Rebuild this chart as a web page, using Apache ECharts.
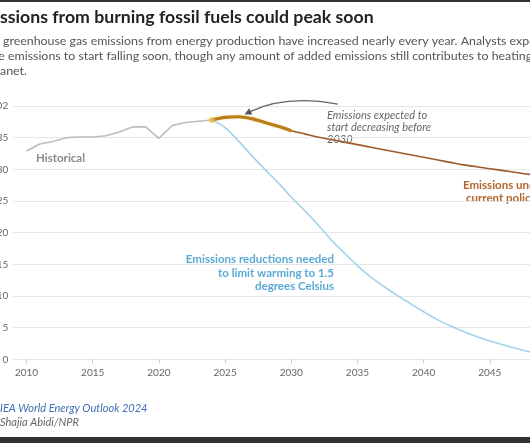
<!DOCTYPE html>
<html><head><meta charset="utf-8">
<script src="https://cdn.jsdelivr.net/npm/echarts@6/dist/echarts.min.js"></script>
<style>html,body{margin:0;padding:0;background:#fff;overflow:hidden}#c{width:530px;height:443px}</style>
</head><body><div id="c"></div>
<script>
// ---- data ----
const histYears = [2010,2011,2012,2013,2014,2015,2016,2017,2018,2019,2020,2021,2022,2023,2024];
const histValues = [32.9,34.0,34.4,35.0,35.1,35.1,35.3,35.9,36.7,36.7,34.9,36.9,37.4,37.6,37.8];
const projYears = [2024,2025,2026,2027,2028,2029,2030,2031,2032,2033,2034,2035,2036,2037,2038,2039,2040,2041,2042,2043,2044,2045,2046,2047,2048,2049,2050];
const currentPolicies = [37.8,38.2,38.3,38.0,37.4,36.8,36.1,35.6,35.1,34.7,34.3,33.9,33.5,33.1,32.7,32.3,31.9,31.5,31.1,30.7,30.4,30.1,29.8,29.5,29.2,29.0,28.8];
const limit15 = [37.8,36.6,34.5,32.2,30.0,27.9,25.6,23.5,21.3,18.9,16.8,14.8,13.0,11.5,10.1,8.8,7.5,6.3,5.3,4.4,3.6,2.9,2.3,1.7,1.2,0.8,0.5];
const highlightEndYear = 2030;
const xTickLabels = [2010,2015,2020,2025,2030,2035,2040,2045,2050];
const yTickValues = [0,5,10,15,20,25,30,35,40];
const yTopUnit = 'GtCO2';

// ---- build ----
const pairs = (xs, ys) => xs.map((x, i) => [x, ys[i]]);
const histData = pairs(histYears, histValues);
const cpData = pairs(projYears, currentPolicies);
const hlData = cpData.filter(d => d[0] <= highlightEndYear);
const blueData = pairs(projYears, limit15);
const startPoint = histData[histData.length - 1];

const FONT = 'Lato, "Open Sans", sans-serif';
const mctx = document.createElement('canvas').getContext('2d');
function tw(text, font) { mctx.font = font; return mctx.measureText(text).width; }
function fitSize(text, weight, style, target) {
  const base = 20;
  const w = tw(text, `${style} ${weight} ${base}px Lato`);
  return base * target / w;
}

const chart = echarts.init(document.getElementById('c'), null, {renderer: 'canvas'});

const titleFull = 'Emissions from burning fossil fuels could peak soon';
const titleVisible = 'ssions from burning fossil fuels could peak soon';
const titleSize = fitSize(titleVisible, 'bold', 'normal', 374);
const titleX = -tw('Emi', `bold ${titleSize}px Lato`);

const sub1 = 'Global greenhouse gas emissions from energy production have increased nearly every year. Analysts expect';
const sub1Vis = 'greenhouse gas emissions from energy production have increased nearly every year. Analysts exp';
const subSize = fitSize(sub1Vis, 'normal', 'normal', 527);
const sub1X = 3 - tw('Global ', `${subSize}px Lato`);
const sub2 = 'those emissions to start falling soon, though any amount of added emissions still contributes to heating';
const sub2X = 8 - tw('those ', `${subSize}px Lato`);
const sub3 = 'the planet.';
const sub3X = 0 - tw('the pl', `${subSize}px Lato`);

const src = 'Source: IEA World Energy Outlook 2024';
const srcX = 0 - tw('Source: ', `italic 11px Lato`);
const cred = 'Credit: Shajia Abidi/NPR';
const credX = 0 - tw('Credit: ', `italic 11px Lato`);

const staticGraphic = [
  {type:'rect', shape:{x:0,y:0,width:530,height:2}, style:{fill:'#333'}, silent:true},
  {type:'rect', shape:{x:0,y:437,width:530,height:6}, style:{fill:'#333'}, silent:true},
  {type:'text', x:titleX, y:17, style:{text:titleFull, font:`bold ${titleSize}px ${FONT}`, fill:'#222', verticalAlign:'middle'}},
  {type:'text', x:sub1X, y:41, style:{text:sub1, font:`${subSize}px ${FONT}`, fill:'#555', verticalAlign:'middle'}},
  {type:'text', x:sub2X, y:56, style:{text:sub2, font:`${subSize}px ${FONT}`, fill:'#555', verticalAlign:'middle'}},
  {type:'text', x:sub3X, y:71, style:{text:sub3, font:`${subSize}px ${FONT}`, fill:'#555', verticalAlign:'middle'}},
  {type:'text', x:36, y:158, style:{text:'Historical', font:`bold 11.5px ${FONT}`, fill:'#8a8a8a', verticalAlign:'middle'}},
  {type:'text', x:327, y:115, style:{text:'Emissions expected to', font:`italic 11px ${FONT}`, fill:'#666', verticalAlign:'middle'}},
  {type:'text', x:327, y:127, style:{text:'start decreasing before', font:`italic 11px ${FONT}`, fill:'#666', verticalAlign:'middle'}},
  {type:'text', x:327, y:139, style:{text:'2030', font:`italic 11px ${FONT}`, fill:'#666', verticalAlign:'middle'}},
  {type:'text', x:334, y:259, style:{text:'Emissions reductions needed', font:`bold 11.5px ${FONT}`, fill:'#5aaad6', align:'right', verticalAlign:'middle'}},
  {type:'text', x:334, y:273, style:{text:'to limit warming to 1.5', font:`bold 11.5px ${FONT}`, fill:'#5aaad6', align:'right', verticalAlign:'middle'}},
  {type:'text', x:334, y:286, style:{text:'degrees Celsius', font:`bold 11.5px ${FONT}`, fill:'#5aaad6', align:'right', verticalAlign:'middle'}},
  {type:'text', x:463, y:185, style:{text:'Emissions under', font:`bold 11.5px ${FONT}`, fill:'#b5642c', verticalAlign:'middle'}},
  {type:'text', x:466, y:198, style:{text:'current policies', font:`bold 11.5px ${FONT}`, fill:'#b5642c', verticalAlign:'middle'}},
  {type:'text', x:srcX, y:408, style:{text:src, font:`italic 11px ${FONT}`, fill:'#3f6fb6', verticalAlign:'middle'}},
  {type:'text', x:credX, y:422, style:{text:cred, font:`italic 11px ${FONT}`, fill:'#666', verticalAlign:'middle'}}
];

chart.setOption({
  animation: false,
  backgroundColor: '#fff',
  grid: {left: 13.3, right: -26, top: 106, bottom: 83.7, containLabel: false, outerBoundsMode: 'none'},
  xAxis: {
    type: 'value', min: 2009, max: 2050,
    axisLine: {show: false},
    splitLine: {show: false},
    axisTick: {show: true, customValues: xTickLabels, length: 4, lineStyle: {color: '#c8c8c8'}},
    axisLabel: {customValues: xTickLabels, color: '#666', fontSize: 10, fontFamily: FONT, margin: 8, formatter: v => String(v)}
  },
  yAxis: {
    type: 'value', min: 0, max: 40, interval: 5,
    axisLine: {show: false}, axisTick: {show: false},
    splitLine: {lineStyle: {color: '#e6e6e6', width: 1}},
    axisLabel: {color: '#666', fontSize: 10, fontFamily: FONT, margin: 5,
      formatter: v => v === yTickValues[yTickValues.length - 1] ? v + ' ' + yTopUnit : String(v)}
  },
  series: [
    {type:'line', data: histData, symbol:'none', lineStyle:{color:'#bdbdbd', width:1.6}, z:2},
    {type:'line', data: blueData, symbol:'none', smooth:0.35, lineStyle:{color:'#a3d3ea', width:1.6}, z:3},
    {type:'line', data: cpData, symbol:'none', smooth:0.35, lineStyle:{color:'#9e5a2b', width:1.6}, z:4},
    {type:'line', data: hlData, symbol:'none', smooth:0.35, lineStyle:{color:'#b97d1c', width:3.2, shadowColor:'rgba(240,190,60,0.6)', shadowBlur:2}, z:5},
    {type:'scatter', data: [startPoint], symbol:'circle', symbolSize:6, itemStyle:{color:'#f0c04a'}, z:6}
  ],
  graphic: staticGraphic
});

const toPx = p => chart.convertToPixel({xAxisIndex:0, yAxisIndex:0}, p);
const a0 = toPx([2033.5, 40.3]);
const ac = toPx([2029.6, 41.8]);
const a1 = toPx([2026.6, 38.8]);
const dx = a1[0] - ac[0], dy = a1[1] - ac[1];
const len = Math.hypot(dx, dy), ux = dx/len, uy = dy/len;
const hl = 7, hw = 3.5;
const tip = [a1[0] + ux*2, a1[1] + uy*2];
const baseP = [tip[0] - ux*hl, tip[1] - uy*hl];
const head = [tip, [baseP[0] - uy*hw, baseP[1] + ux*hw], [baseP[0] + uy*hw, baseP[1] - ux*hw]];
chart.setOption({graphic: staticGraphic.concat([
  {type:'bezierCurve', shape:{x1:a0[0], y1:a0[1], x2:baseP[0], y2:baseP[1], cpx1:ac[0], cpy1:ac[1]}, style:{stroke:'#666', lineWidth:1.3, fill:null}, z:10},
  {type:'polygon', shape:{points: head}, style:{fill:'#555'}, z:10}
])});
</script>
</body></html>
